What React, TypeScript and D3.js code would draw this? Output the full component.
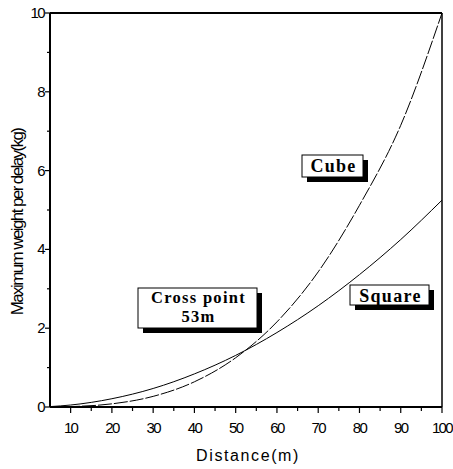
import React from "react";
import * as d3 from "d3";

const distances = [5, 10, 20, 30, 40, 50, 60, 70, 80, 90, 100];
const squareValues = [0.01, 0.05, 0.21, 0.47, 0.84, 1.31, 1.89, 2.57, 3.36, 4.25, 5.25];
const cubeValues = [0.0, 0.01, 0.08, 0.27, 0.64, 1.25, 2.16, 3.43, 5.12, 7.15, 10.0];
const xMajorTicks = [10, 20, 30, 40, 50, 60, 70, 80, 90, 100];
const xMinorTicks = [15, 25, 35, 45, 55, 65, 75, 85, 95];
const yMajorTicks = [0, 2, 4, 6, 8, 10];
const yMinorTicks = [1, 3, 5, 7, 9];

const W = 453, H = 469;
const L = 50, R = 442, T = 13, B = 407;

export default function App() {
  const x = d3.scaleLinear().domain([5, 100]).range([L, R]);
  const y = d3.scaleLinear().domain([0, 10]).range([B, T]);
  const line = d3.line<[number, number]>().x(d => x(d[0])).y(d => y(d[1])).curve(d3.curveMonotoneX);
  const sq = line(distances.map((d, i) => [d, squareValues[i]]) as [number, number][]) || "";
  const cu = line(distances.map((d, i) => [d, cubeValues[i]]) as [number, number][]) || "";
  const tickFont = { fontFamily: "Liberation Sans, Arial, sans-serif", fontSize: 15, letterSpacing: -1.6 } as const;
  const boxFont = { fontFamily: "Liberation Serif, Times New Roman, serif", fontWeight: 700, letterSpacing: 1.3 } as const;

  const Box = ({ x0, y0, w, h, lines }: { x0: number; y0: number; w: number; h: number; lines: string[] }) => {
    const multi = lines.length > 1;
    const fs = multi ? 16.5 : 18;
    return (
      <g>
        <rect x={x0 + 5} y={y0 + 5} width={w} height={h} fill="#000" />
        <rect x={x0} y={y0} width={w} height={h} fill="#fff" stroke="#000" strokeWidth={1} />
        {lines.map((t, i) => (
          <text key={i} x={x0 + w / 2 + 1} y={y0 + (multi ? 15 : 17) + i * 19} textAnchor="middle" style={{ ...boxFont, fontSize: fs }}>{t}</text>
        ))}
      </g>
    );
  };

  return (
    <svg width={W} height={H} style={{ position: "absolute", left: 0, top: 0, background: "#fff" }}>
      <rect x={0} y={0} width={W} height={H} fill="#fff" />
      <path d={sq} fill="none" stroke="#000" strokeWidth={1} />
      <path d={cu} fill="none" stroke="#000" strokeWidth={1} strokeDasharray="14,2" />
      {/* frame */}
      <line x1={L} x2={R} y1={T} y2={T} stroke="#000" strokeWidth={2} />
      <line x1={R} x2={R} y1={T} y2={B} stroke="#000" strokeWidth={1.5} />
      <line x1={L} x2={L} y1={T} y2={B} stroke="#000" strokeWidth={2} />
      <line x1={L} x2={R} y1={B} y2={B} stroke="#000" strokeWidth={2} />
      {xMajorTicks.map(t => (
        <g key={"xm" + t}>
          <line x1={x(t)} x2={x(t)} y1={B} y2={B + 6} stroke="#000" strokeWidth={1.2} />
          <text x={x(t)} y={B + 26} textAnchor="middle" style={tickFont}>{t}</text>
        </g>
      ))}
      {xMinorTicks.map(t => (
        <line key={"xn" + t} x1={x(t)} x2={x(t)} y1={B} y2={B + 4} stroke="#000" strokeWidth={1.2} />
      ))}
      {yMajorTicks.map(t => (
        <g key={"ym" + t}>
          <line x1={L - 5} x2={L} y1={y(t)} y2={y(t)} stroke="#000" strokeWidth={1.2} />
          <text x={L - 6} y={y(t) + 5} textAnchor="end" style={tickFont}>{t}</text>
        </g>
      ))}
      {yMinorTicks.map(t => (
        <line key={"yn" + t} x1={L - 3} x2={L} y1={y(t)} y2={y(t)} stroke="#000" strokeWidth={1.2} />
      ))}
      <text x={248} y={461} textAnchor="middle" style={{ fontFamily: "Liberation Sans, Arial, sans-serif", fontSize: 16, letterSpacing: 1.6 }}>Distance(m)</text>
      <text transform={`translate(23,${(T + B) / 2 + 12}) rotate(-90)`} textAnchor="middle" style={{ fontFamily: "Liberation Sans, Arial, sans-serif", fontSize: 17, letterSpacing: -1.6 }}>Maximum weight per delay(kg)</text>
      <Box x0={302} y0={155} w={61} h={22} lines={["Cube"]} />
      <Box x0={138} y0={288} w={119} h={40} lines={["Cross point", "53m"]} />
      <Box x0={350} y0={285} w={79} h={20} lines={["Square"]} />
    </svg>
  );
}
